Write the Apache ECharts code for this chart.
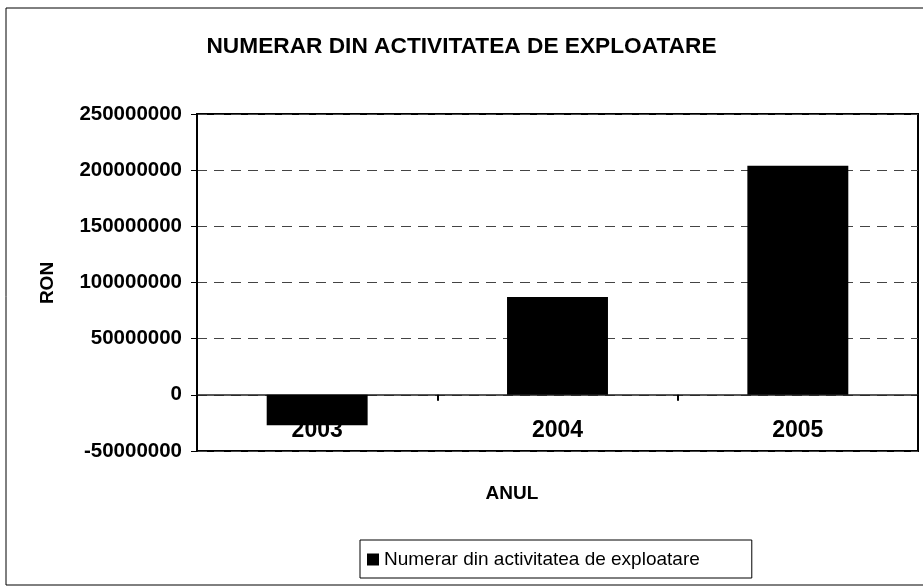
<!DOCTYPE html>
<html>
<head>
<meta charset="utf-8">
<script src="https://cdn.jsdelivr.net/npm/echarts@6/dist/echarts.min.js"></script>
<style>
html,body{margin:0;padding:0;background:#fff;}
#chart{width:923px;height:587px;}
</style>
</head>
<body>
<div id="chart"></div>
<script>
const chartTitle = 'NUMERAR DIN ACTIVITATEA DE EXPLOATARE';
const categories = ['2003', '2004', '2005'];
const seriesName = 'Numerar din activitatea de exploatare';
const values = [-27000000, 87000000, 204000000];
const yMin = -50000000, yMax = 250000000, yStep = 50000000;
const xAxisTitle = 'ANUL';
const yAxisTitle = 'RON';

const FONT = "'Liberation Sans', Arial, sans-serif";
const chart = echarts.init(document.getElementById('chart'), null, {renderer: 'canvas'});
chart.setOption({
  animation: false,
  backgroundColor: '#fff',
  title: {
    text: chartTitle,
    left: 'center',
    top: 30,
    textStyle: {fontFamily: FONT, fontSize: 22.7, fontWeight: 'bold', color: '#000'}
  },
  graphic: [
    {type: 'rect', shape: {x: 6, y: 8, width: 940, height: 577}, style: {fill: 'none', stroke: '#000', lineWidth: 1}, silent: true, z: -1},
    {type: 'text', x: 48, y: 283, rotation: Math.PI / 2,
      style: {text: yAxisTitle, fontFamily: FONT, fontSize: 19, fontWeight: 'bold', fill: '#000', align: 'center', verticalAlign: 'middle'}},
    {type: 'text', x: 512, y: 494,
      style: {text: xAxisTitle, fontFamily: FONT, fontSize: 19, fontWeight: 'bold', fill: '#000', align: 'center', verticalAlign: 'middle'}}
  ],
  legend: {
    left: 360,
    top: 540,
    padding: [10, 52, 9, 7],
    borderColor: '#000',
    borderWidth: 1,
    itemWidth: 12,
    itemHeight: 12,
    icon: 'rect',
    textStyle: {fontFamily: FONT, fontSize: 19, color: '#000'},
    data: [seriesName]
  },
  grid: {
    left: 197, top: 114, right: 5, bottom: 136,
    show: true, borderColor: '#000', borderWidth: 2, backgroundColor: 'transparent'
  },
  xAxis: {
    type: 'category',
    data: categories,
    axisLine: {onZero: true, lineStyle: {color: '#222', width: 1.5}},
    axisTick: {show: true, alignWithLabel: false, length: 6, lineStyle: {color: '#000', width: 2}},
    axisLabel: {margin: -32, fontFamily: FONT, fontSize: 23, fontWeight: 'bold', color: '#000'},
    splitLine: {show: false}
  },
  yAxis: {
    type: 'value',
    min: yMin, max: yMax, interval: yStep,
    axisLine: {show: true, lineStyle: {color: '#000', width: 2}},
    axisTick: {show: true, length: 6, lineStyle: {color: '#000'}},
    axisLabel: {margin: 15, fontFamily: FONT, fontSize: 20.5, fontWeight: 'bold', color: '#000',
      formatter: function (v) { return String(v); }},
    splitLine: {show: true, lineStyle: {color: '#444', type: [10, 7], width: 1}}
  },
  series: [{
    name: seriesName,
    type: 'bar',
    data: values,
    barWidth: '42%',
    itemStyle: {color: '#000'}
  }]
});
</script>
</body>
</html>
